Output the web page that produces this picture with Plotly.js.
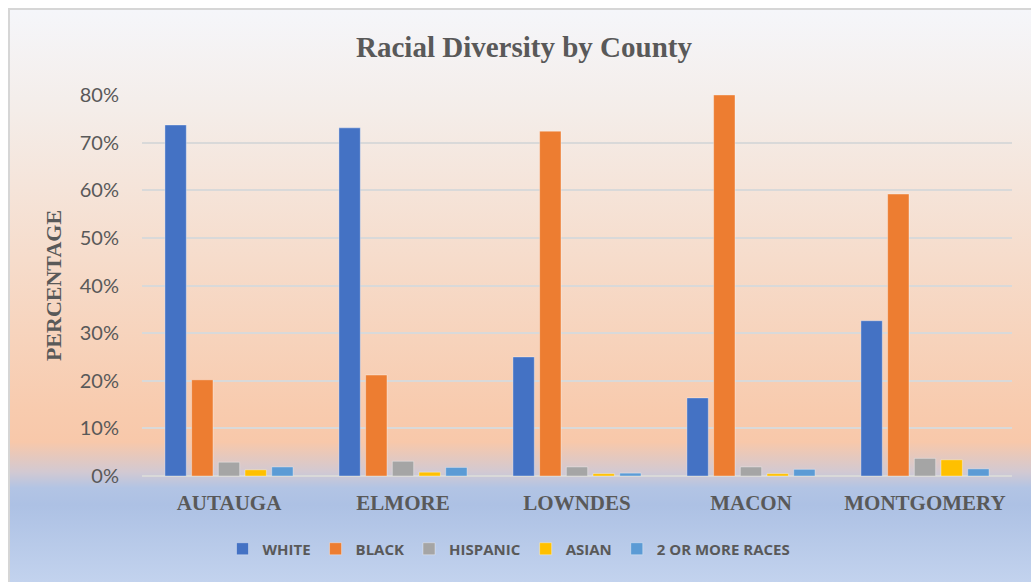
<!DOCTYPE html>
<html>
<head>
<meta charset="utf-8">
<script src="https://cdn.plot.ly/plotly-3.0.1.min.js"></script>
<style>
  html, body { margin: 0; padding: 0; width: 1031px; height: 582px; overflow: hidden; background: #ffffff; }
  #bg {
    position: absolute; left: 8px; top: 8px; width: 1040px; height: 590px;
    border-left: 2px solid #d6d6d6; border-top: 2px solid #d6d6d6;
    background: linear-gradient(to bottom,
      #f5f6fa 0px, #f4ede9 100px, #f6dccb 250px, #f8cbae 400px, #f8c8aa 432px,
      #d2c9d2 462px, #b2c4e4 478px, #adc1e4 495px, #c3d3ee 574px, #c5d5ef 590px);
  }
  #chart { position: absolute; left: 0; top: 0; width: 1031px; height: 582px; }
</style>
</head>
<body>
<div id="bg"></div>
<div id="chart"></div>
<script>
const counties = ["AUTAUGA", "ELMORE", "LOWNDES", "MACON", "MONTGOMERY"];
const white    = [0.737, 0.731, 0.250, 0.164, 0.326];
const black    = [0.202, 0.212, 0.724, 0.800, 0.592];
const hispanic = [0.029, 0.031, 0.019, 0.019, 0.037];
const asian    = [0.013, 0.008, 0.005, 0.005, 0.034];
const twoPlus  = [0.019, 0.018, 0.006, 0.014, 0.015];

const seriesNames  = ["WHITE", "BLACK", "HISPANIC", "ASIAN", "2 OR MORE RACES"];
const seriesValues = [white, black, hispanic, asian, twoPlus];
const seriesColors = ["#4472c4", "#ed7d31", "#a5a5a5", "#ffc000", "#5b9bd5"];

const traces = seriesNames.map((name, i) => ({
  type: "bar",
  name: name,
  x: counties,
  y: seriesValues[i],
  marker: { color: seriesColors[i], line: { color: "rgba(255,255,255,0.35)", width: 1 } },
  hoverinfo: "x+y+name"
}));

const grey = "#595959";
const layout = {
  width: 1031, height: 582,
  paper_bgcolor: "rgba(0,0,0,0)",
  plot_bgcolor: "rgba(0,0,0,0)",
  margin: { l: 142, r: 19, t: 95, b: 106, autoexpand: false },
  barmode: "group",
  bargap: 0.233,
  bargroupgap: 0.2,
  title: {
    text: "Racial Diversity by County",
    font: { family: "Liberation Serif, Times New Roman, serif", size: 29, color: grey, weight: "bold" },
    x: 524 / 1031, xanchor: "center", xref: "container",
    y: 1 - 47 / 582, yanchor: "middle", yref: "container"
  },
  xaxis: {
    type: "category",
    showgrid: false, zeroline: false, showline: false,
    ticks: "", ticklabelstandoff: 12,
    tickfont: { family: "Liberation Serif, Times New Roman, serif", size: 21, color: grey, weight: "bold" },
    automargin: false, fixedrange: true
  },
  yaxis: {
    range: [0, 0.8],
    dtick: 0.1,
    tickformat: ".0%",
    showgrid: true, gridcolor: "#d9d9d9", gridwidth: 1.6,
    zeroline: true, zerolinecolor: "#d9d9d9", zerolinewidth: 2,
    showline: false, ticks: "", ticklabelstandoff: 22,
    tickfont: { family: "Lato, Open Sans, sans-serif", size: 20, color: grey },
    title: {
      text: "PERCENTAGE",
      font: { family: "Liberation Serif, Times New Roman, serif", size: 22, color: grey, weight: "bold" },
      standoff: 12
    },
    automargin: false, fixedrange: true
  },
  legend: {
    orientation: "h",
    x: 509 / 1031, xanchor: "center", xref: "container",
    y: 1 - 549 / 582, yanchor: "middle", yref: "container",
    font: { family: "Open Sans, Lato, sans-serif", size: 15, color: grey, weight: 700 },
    itemwidth: 30, itemclick: false, itemdoubleclick: false,
    tracegroupgap: 0,
    bgcolor: "rgba(0,0,0,0)"
  },
  showlegend: true
};

Plotly.newPlot("chart", traces, layout, { displayModeBar: false, responsive: false });
</script>
</body>
</html>
